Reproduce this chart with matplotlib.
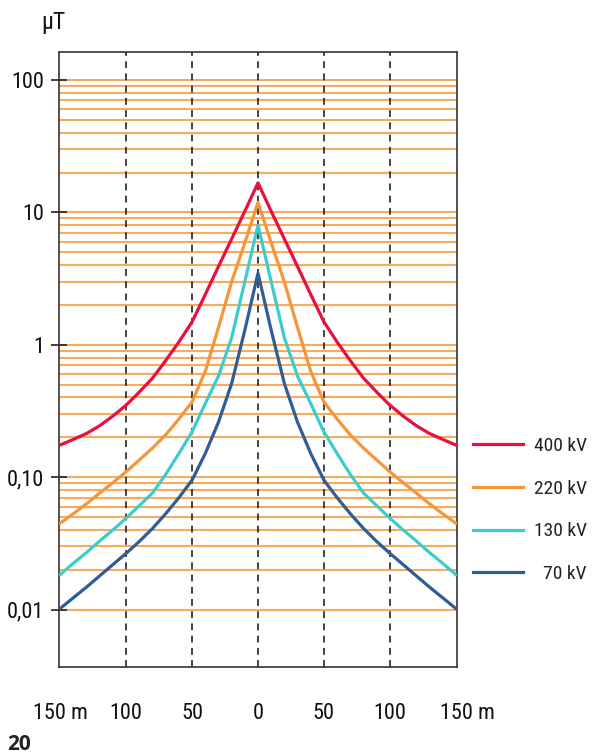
import matplotlib
matplotlib.use("Agg")
import matplotlib.pyplot as plt
import matplotlib.transforms as mtransforms
from matplotlib import font_manager as fm
from matplotlib.ticker import FixedLocator, NullFormatter

# ---------------- data ----------------
distance_m = [-150, -140, -130, -120, -110, -100, -90, -80, -70, -60, -50, -40, -30, -20, -10, 0,
              10, 20, 30, 40, 50, 60, 70, 80, 90, 100, 110, 120, 130, 140, 150]

b_400kv = [0.175, 0.193, 0.214, 0.245, 0.29, 0.35, 0.44, 0.56, 0.76, 1.05, 1.49, 2.4, 3.9, 6.3, 10.2, 16.7,
           10.2, 6.3, 3.9, 2.4, 1.49, 1.05, 0.76, 0.56, 0.44, 0.35, 0.29, 0.245, 0.214, 0.193, 0.175]
b_220kv = [0.045, 0.053, 0.063, 0.076, 0.091, 0.110, 0.135, 0.166, 0.209, 0.275, 0.37, 0.63, 1.35, 2.99, 5.9, 11.9,
           5.9, 2.99, 1.35, 0.63, 0.37, 0.275, 0.209, 0.166, 0.135, 0.110, 0.091, 0.076, 0.063, 0.053, 0.045]
b_130kv = [0.0184, 0.0224, 0.027, 0.033, 0.040, 0.049, 0.061, 0.076, 0.105, 0.151, 0.22, 0.36, 0.58, 1.13, 3.0, 8.0,
           3.0, 1.13, 0.58, 0.36, 0.22, 0.151, 0.105, 0.076, 0.061, 0.049, 0.040, 0.033, 0.027, 0.0224, 0.0184]
b_70kv = [0.0102, 0.0123, 0.0148, 0.0180, 0.0219, 0.0266, 0.0327, 0.041, 0.053, 0.070, 0.095, 0.151, 0.26, 0.51, 1.29, 3.47,
          1.29, 0.51, 0.26, 0.151, 0.095, 0.070, 0.053, 0.041, 0.0327, 0.0266, 0.0219, 0.0180, 0.0148, 0.0123, 0.0102]

series_labels = ["400 kV", "220 kV", "130 kV", "  70 kV"]
series_colors = ["#e8103c", "#f7953a", "#3ccccc", "#2f5e96"]

y_tick_values = [0.01, 0.1, 1, 10, 100]
y_tick_labels = ["0,01", "0,10", "1", "10", "100"]
x_tick_values = [-150, -100, -50, 0, 50, 100, 150]
x_tick_labels = ["150 m", "100", "50", "0", "50", "100", "150 m"]
dashed_positions = [-100, -50, 0, 50, 100]

# ---------------- fonts ----------------
available = {f.name for f in fm.fontManager.ttflist}
narrow = next((f for f in ["Liberation Sans Narrow", "DejaVu Sans Condensed", "Roboto Condensed",
                           "Liberation Sans"] if f in available), "DejaVu Sans")
bold_font = next((f for f in ["Open Sans", "Noto Sans", "DejaVu Sans"] if f in available), "DejaVu Sans")
plt.rcParams["font.family"] = [narrow, "DejaVu Sans"]

# ---------------- figure ----------------
fig = plt.figure(figsize=(5.96, 7.55), dpi=100)
ax = fig.add_axes([59 / 596, 1 - 667 / 755, (457 - 59) / 596, (667 - 52) / 755])

grid_color = "#f9ab5c"
ax.set_yscale("log")
ax.set_ylim(0.00368, 162.7)
ax.set_xlim(-151, 151)

minor_vals = [m * 10.0 ** e for e in range(-2, 2) for m in range(2, 10)]
ax.yaxis.set_major_locator(FixedLocator(y_tick_values))
ax.yaxis.set_minor_locator(FixedLocator(minor_vals))
ax.yaxis.set_minor_formatter(NullFormatter())
ax.set_yticklabels(y_tick_labels)
ax.grid(True, which="both", axis="y", color=grid_color, lw=1.5, zorder=1)
ax.set_axisbelow(True)

ax.tick_params(axis="y", which="major", direction="inout", length=11, width=1.2,
               color="#222222", labelsize=16, pad=5, labelcolor="#111111")
ax.tick_params(axis="y", which="minor", length=0)

ax.set_xticks(x_tick_values)
ax.set_xticklabels(x_tick_labels)
ax.tick_params(axis="x", length=0, labelsize=16, pad=26, labelcolor="#111111")
# nudge the right-most label as in the original
lbls = ax.get_xticklabels()
lbls[-1].set_transform(lbls[-1].get_transform() +
                       mtransforms.ScaledTranslation(12 / 100, 0, fig.dpi_scale_trans))

for x in dashed_positions:
    ax.axvline(x, color="#111111", lw=1.1, ls=(0, (4.5, 3.5)), zorder=2)

for s in ax.spines.values():
    s.set_color("#333333")
    s.set_linewidth(1.2)

handles = []
for vals, col, lab in zip([b_400kv, b_220kv, b_130kv, b_70kv], series_colors, series_labels):
    ln, = ax.plot(distance_m, vals, color=col, lw=2.3, zorder=3, solid_joinstyle="round", label=lab)
    handles.append(ln)

leg = ax.legend(handles=handles, labels=series_labels, loc="upper left",
                bbox_to_anchor=(473 / 596, 1 - 437 / 755), bbox_transform=fig.transFigure,
                frameon=False, fontsize=14, handlelength=2.57, handletextpad=0.56,
                labelspacing=1.27, borderpad=0, borderaxespad=0)
for t in leg.get_texts():
    t.set_color("#222222")

fig.text(53 / 596, 1 - 22 / 755, "µT", ha="center", va="center", fontsize=17, color="#111111")
fig.text(7 / 596, 1 - 744 / 755, "20", ha="left", va="center", fontsize=15,
         fontweight="bold", family=bold_font, color="#222222")

fig.savefig("out.png", dpi=100)
